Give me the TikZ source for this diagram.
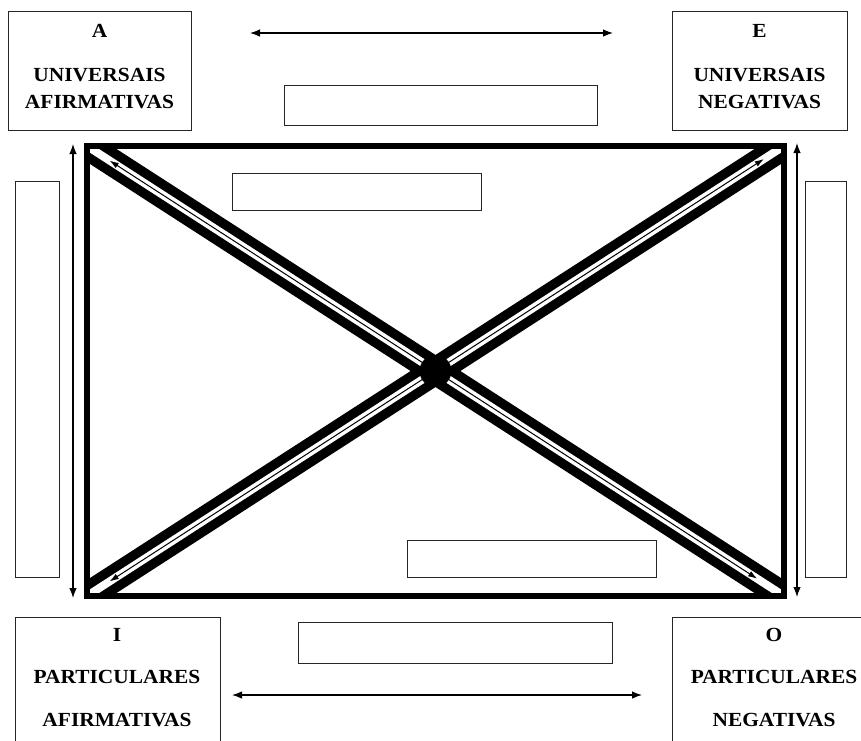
\documentclass[tikz,border=0pt]{standalone}
\usepackage{fontspec}
\setmainfont{Liberation Serif}[FakeStretch=1.07]
\usetikzlibrary{arrows.meta,calc}
\begin{document}
\begin{tikzpicture}[x=1pt,y=-1pt,
  box/.style={draw=black!85, line width=1.2pt, inner sep=0pt, anchor=north west},
  lbl/.style={font=\bfseries\fontsize{20}{24}\selectfont, inner sep=0pt, text=black},
  duo/.style={line width=1.2pt, {Latex[length=10pt,width=7.5pt]}-{Latex[length=10pt,width=7.5pt]}},
  thin duo/.style={line width=1pt, {Latex[length=9pt,width=6pt]}-{Latex[length=9pt,width=6pt]}}]
\useasboundingbox (0,0) rectangle (861,740);
\fill[white] (0,0) rectangle (861,740);
% corners of the square of opposition
\coordinate (TL) at (87,146);
\coordinate (TR) at (784,146);
\coordinate (BL) at (87,596);
\coordinate (BR) at (784,596);
\coordinate (X) at (435.5,371);
% diagonals
\begin{scope}
  \clip (TL) rectangle (BR);
  \draw[line width=27pt, black] (TL) -- (BR);
  \draw[line width=27pt, black] (BL) -- (TR);
  \draw[line width=8pt, white] (TL) -- (BR);
  \draw[line width=8pt, white] (BL) -- (TR);
\end{scope}
\coordinate (d1a) at ($(TL)!27pt!(BR)$);
\coordinate (d1b) at ($(BR)!32pt!(TL)$);
\coordinate (d2a) at ($(BL)!27pt!(TR)$);
\coordinate (d2b) at ($(TR)!24pt!(BL)$);
\draw[thin duo] (d1a) -- (d1b);
\draw[thin duo] (d2a) -- (d2b);
\fill[black] (X) circle (16pt);
\draw[line width=6.5pt, line join=miter] (TL) rectangle (BR);
% outer boxes
\node[box, minimum width=183pt, minimum height=119pt] (A) at (8,11) {};
\node[box, minimum width=175pt, minimum height=119pt] (E) at (672,11) {};
\node[box, minimum width=205pt, minimum height=140pt] (I) at (15,617) {};
\node[box, minimum width=210pt, minimum height=140pt] (O) at (672,617) {};
% blank boxes
\node[box, minimum width=313pt, minimum height=40pt] (top) at (284,85) {};
\node[box, minimum width=314pt, minimum height=41pt] (bot) at (298,622) {};
\node[box, minimum width=44pt, minimum height=396pt] (lside) at (15,181) {};
\node[box, minimum width=41pt, minimum height=396pt] (rside) at (805,181) {};
\node[box, minimum width=249pt, minimum height=37pt] (inTL) at (232,173) {};
\node[box, minimum width=249pt, minimum height=37pt] (inBR) at (407,540) {};
% labels
\node[lbl] (tA) at (99.5,31) {A};
\node[lbl] (tA1) at (99.5,75) {UNIVERSAIS};
\node[lbl] (tA2) at (99.5,102) {AFIRMATIVAS};
\node[lbl] (tE) at (759.5,31) {E};
\node[lbl] (tE1) at (759.5,75) {UNIVERSAIS};
\node[lbl] (tE2) at (759.5,102) {NEGATIVAS};
\node[lbl] (tI) at (117,635) {I};
\node[lbl] (tI1) at (117,677) {PARTICULARES};
\node[lbl] (tI2) at (117,720) {AFIRMATIVAS};
\node[lbl] (tO) at (774,635) {O};
\node[lbl] (tO1) at (774,677) {PARTICULARES};
\node[lbl] (tO2) at (774,720) {NEGATIVAS};
% arrows
\coordinate (ta) at (250,33);
\coordinate (tb) at (613,33);
\coordinate (ba) at (232,695);
\coordinate (bb) at (642,695);
\coordinate (la) at (73,144);
\coordinate (lb) at (73,598);
\coordinate (ra) at (797,143);
\coordinate (rb) at (797,597);
\draw[duo] (ta) -- (tb);
\draw[duo] (ba) -- (bb);
\draw[duo] (la) -- (lb);
\draw[duo] (ra) -- (rb);
\end{tikzpicture}
\end{document}
